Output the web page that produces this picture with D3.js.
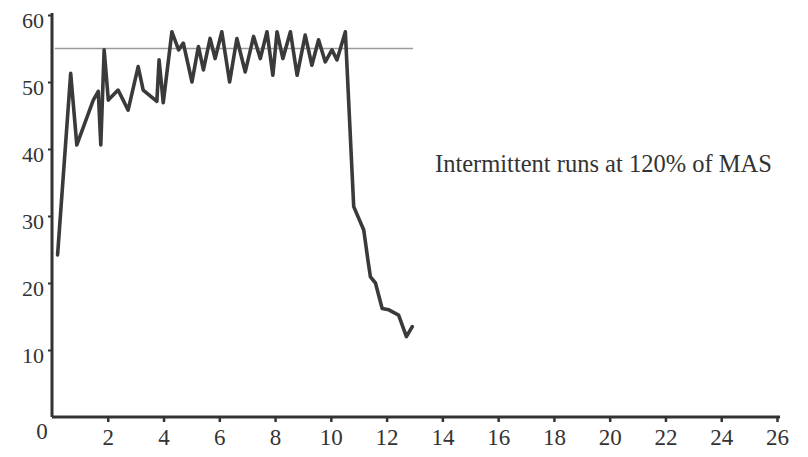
<!DOCTYPE html>
<html>
<head>
<meta charset="utf-8">
<script src="https://cdn.jsdelivr.net/npm/d3@7"></script>
<style>
  html, body { margin: 0; padding: 0; background: #fff; }
  svg { display: block; }
  text { font-family: "Liberation Serif", "DejaVu Serif", serif; fill: #333; }
</style>
</head>
<body>
<svg id="chart" width="808" height="457"></svg>
<script>
// Time (min) of each sample
const times = [
  0.2, 0.67, 0.89, 1.48, 1.66, 1.75, 1.87, 2.02, 2.37, 2.73,
  3.09, 3.27, 3.76, 3.84, 3.99, 4.30, 4.54, 4.71, 5.02, 5.25,
  5.43, 5.67, 5.85, 6.09, 6.37, 6.63, 6.93, 7.23, 7.47, 7.71,
  7.92, 8.07, 8.28, 8.55, 8.79, 9.08, 9.32, 9.56, 9.80, 10.04,
  10.22, 10.52, 10.82, 11.18, 11.33, 11.42, 11.60, 11.84, 12.08, 12.43,
  12.71, 12.92
];
// Measured value at each sample
const values = [
  24.2, 51.3, 40.6, 47.3, 48.6, 40.6, 54.8, 47.3, 48.8, 45.8,
  52.3, 48.8, 47.1, 53.3, 46.9, 57.5, 54.8, 55.8, 50.0, 55.3,
  51.8, 56.5, 53.5, 57.5, 50.0, 56.5, 51.5, 56.8, 53.5, 57.5,
  51.0, 57.5, 53.5, 57.5, 51.0, 57.0, 52.5, 56.3, 53.0, 54.8,
  53.3, 57.5, 31.4, 27.9, 23.4, 20.9, 20.0, 16.2, 16.0, 15.2,
  12.0, 13.5
];
// Reference level and the time span it covers
const refLevel = 55;
const refSpan = [0.1, 12.95];

const xTicks = [2, 4, 6, 8, 10, 12, 14, 16, 18, 20, 22, 24, 26];
const yTicks = [10, 20, 30, 40, 50, 60];
const originLabel = "0";
const note = "Intermittent runs at 120% of MAS";

const svg = d3.select("#chart");
const x = d3.scaleLinear().domain([0, 26]).range([52, 777]);
const y = d3.scaleLinear().domain([0, 60]).range([417, 15]);

// Reference line
svg.append("line")
  .attr("x1", x(refSpan[0])).attr("x2", x(refSpan[1]))
  .attr("y1", y(refLevel)).attr("y2", y(refLevel))
  .attr("stroke", "#9a9a9a").attr("stroke-width", 1.4);

// Y axis
const yAxis = svg.append("g")
  .attr("transform", `translate(${x(0)},0)`)
  .call(d3.axisLeft(y).tickValues(yTicks).tickSize(4).tickPadding(4).tickFormat(d3.format("d")));
yAxis.select(".domain").attr("stroke", "#333").attr("stroke-width", 3)
  .attr("d", `M0,${y(60) - 2}V${y(0)}`);
yAxis.selectAll(".tick line").attr("stroke", "#333").attr("stroke-width", 2);
yAxis.selectAll(".tick text")
  .attr("font-size", 22).attr("dy", "0.55em")
  .style("font-family", "Liberation Serif, serif").attr("fill", "#333");

// X axis
const xAxis = svg.append("g")
  .attr("transform", `translate(0,${y(0)})`)
  .call(d3.axisBottom(x).tickValues(xTicks).tickSize(5).tickPadding(7).tickFormat(d3.format("d")));
xAxis.select(".domain").attr("stroke", "#333").attr("stroke-width", 3)
  .attr("d", `M${x(0)},0H${x(26) + 3}`);
xAxis.selectAll(".tick line").attr("stroke", "#333").attr("stroke-width", 2.5);
xAxis.selectAll(".tick text")
  .attr("font-size", 23)
  .style("font-family", "Liberation Serif, serif").attr("fill", "#333");

// Shared origin label
svg.append("text")
  .attr("x", x(0) - 10).attr("y", y(0) + 22)
  .attr("text-anchor", "middle").attr("font-size", 23)
  .text(originLabel);

// Data line
const pts = times.map((t, i) => [t, values[i]]);
svg.append("path")
  .datum(pts)
  .attr("fill", "none")
  .attr("stroke", "#3a3a3a")
  .attr("stroke-width", 3.6)
  .attr("stroke-linejoin", "round")
  .attr("stroke-linecap", "round")
  .attr("d", d3.line().x(d => x(d[0])).y(d => y(d[1])));

// Annotation
svg.append("text")
  .attr("x", 435).attr("y", 172)
  .attr("font-size", 24.5)
  .attr("fill", "#3a3a3a")
  .text(note);
</script>
</body>
</html>
